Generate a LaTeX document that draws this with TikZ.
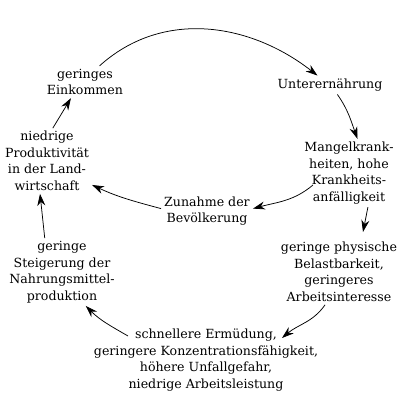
\documentclass[tikz,border=0pt]{standalone}
\usepackage{fontspec}
\setmainfont{DejaVu Serif}
\usetikzlibrary{arrows.meta}

\begin{document}
\begin{tikzpicture}[
  x=1pt, y=1pt,
  font=\fontsize{12.6}{16.5}\selectfont,
  txt/.style={align=center, inner sep=3pt},
  arr/.style={-{Stealth[length=12pt,width=8pt]}, line width=0.75pt}
]
\useasboundingbox (0,0) rectangle (410,410);

% Stationen des Kreislaufs
\node[txt] (eink) at (85,328) {geringes\\Einkommen};
\node[txt] (unter) at (330,325) {Unterernährung};
\node[txt] (mangel) at (349,237) {Mangelkrank-\\heiten, hohe\\Krankheits-\\anfälligkeit};
\node[txt] (zunahme) at (207,199) {Zunahme der\\Bevölkerung};
\node[txt] (niedrig) at (47,249) {niedrige\\Produktivität\\in der Land-\\wirtschaft};
\node[txt] (belast) at (339,138) {geringe physische\\Belastbarkeit,\\geringeres\\Arbeitsinteresse};
\node[txt] (steiger) at (62,138) {geringe\\Steigerung der\\Nahrungsmittel-\\produktion};
\node[txt] (schnell) at (206,50) {schnellere Ermüdung,\\geringere Konzentrationsfähigkeit,\\höhere Unfallgefahr,\\niedrige Arbeitsleistung};

% Pfeile
\draw[arr] (eink.48) to[out=42,in=142] (unter.143);
\draw[arr] (unter.-52) to[out=-55,in=110] (mangel.76);
\draw[arr] ([shift={(-36,-12)}]mangel.center) to[out=220,in=15] (zunahme.3);
\draw[arr] (zunahme.177) to[out=165,in=-25] (niedrig.-28);
\draw[arr] (mangel.-61) -- ([shift={(24,40)}]belast.center);
\draw[arr] (belast.247) to[out=235,in=40] ([shift={(76,22)}]schnell.center);
\draw[arr] ([shift={(-78,24)}]schnell.center) to[out=150,in=-45] (steiger.-55);
\draw[arr] (steiger.117) -- (niedrig.258);
\draw[arr] (niedrig.80) -- (eink.229);

\end{tikzpicture}
\end{document}
